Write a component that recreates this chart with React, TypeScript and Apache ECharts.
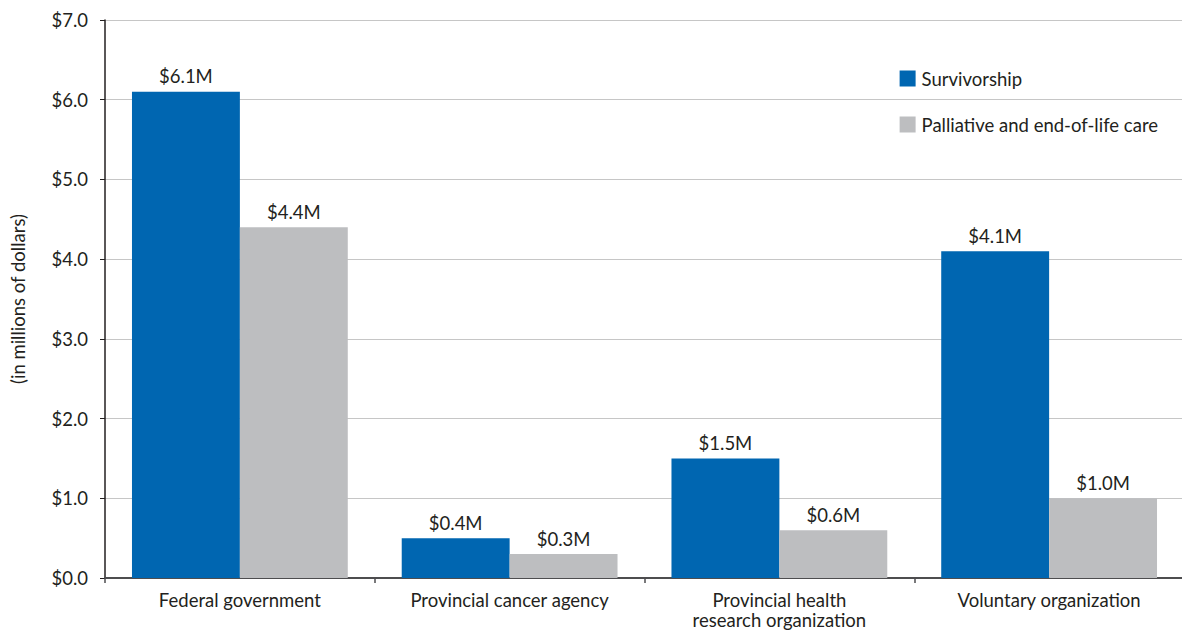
import React, { useEffect, useRef } from "react";
import * as echarts from "echarts";

const categories = [
  "Federal government",
  "Provincial cancer agency",
  "Provincial health\nresearch organization",
  "Voluntary organization",
];
const survivorship = [6.1, 0.5, 1.5, 4.1];
const survivorshipLabels = ["$6.1M", "$0.4M", "$1.5M", "$4.1M"];
const palliative = [4.4, 0.3, 0.6, 1.0];
const palliativeLabels = ["$4.4M", "$0.3M", "$0.6M", "$1.0M"];
const seriesNames = ["Survivorship", "Palliative and end-of-life care"];

const FONT = "Lato";
const FS = 18.5;
const TEXT = "#231f20";

export default function App() {
  const ref = useRef<HTMLDivElement>(null);
  useEffect(() => {
    document.body.style.margin = "0";
    const chart = echarts.init(ref.current!, null, { renderer: "svg" });
    chart.setOption({
      animation: false,
      textStyle: { fontFamily: FONT, color: TEXT },
      grid: { left: 105, right: -2, top: 20, bottom: 54, containLabel: false, outerBoundsMode: "none" },
      legend: {
        orient: "vertical",
        right: 24,
        top: 69,
        padding: 0,
        itemWidth: 16,
        itemHeight: 16,
        itemGap: 27,
        icon: "rect",
        textStyle: { fontFamily: FONT, fontSize: FS, color: TEXT, padding: [0, 0, 0, 1] },
        data: seriesNames,
      },
      xAxis: {
        type: "category",
        data: categories,
        axisLine: { lineStyle: { color: "#4d4d4f", width: 2 } },
        axisTick: { show: true, length: 5, lineStyle: { color: "#4d4d4f", width: 1.5 } },
        axisLabel: {
          fontFamily: FONT,
          fontSize: FS,
          color: TEXT,
          margin: 12,
          lineHeight: 20,
        },
      },
      yAxis: {
        type: "value",
        min: 0,
        max: 7,
        interval: 1,
        name: "(in millions of dollars)",
        nameLocation: "middle",
        nameGap: 78,
        nameRotate: 90,
        nameTextStyle: { fontFamily: FONT, fontSize: FS, color: TEXT },
        axisLine: { show: true, lineStyle: { color: "#231f20", width: 1.5 } },
        axisTick: { show: true, length: 5, lineStyle: { color: "#231f20" } },
        splitLine: { lineStyle: { color: "#c6c6c6", width: 1.2 } },
        axisLabel: {
          fontFamily: FONT,
          fontSize: FS,
          color: TEXT,
          margin: 17,
          formatter: (v: number) => "$" + v.toFixed(1),
        },
      },
      series: [
        {
          name: seriesNames[0],
          type: "bar",
          data: survivorship,
          barGap: "0%",
          barCategoryGap: "20%",
          itemStyle: { color: "#0066b1" },
          label: {
            show: true,
            position: "top",
            distance: 6,
            fontFamily: FONT,
            fontSize: FS,
            color: TEXT,
            formatter: (p: any) => survivorshipLabels[p.dataIndex],
          },
        },
        {
          name: seriesNames[1],
          type: "bar",
          data: palliative,
          barGap: "0%",
          barCategoryGap: "20%",
          itemStyle: { color: "#bdbec0" },
          label: {
            show: true,
            position: "top",
            distance: 6,
            fontFamily: FONT,
            fontSize: FS,
            color: TEXT,
            formatter: (p: any) => palliativeLabels[p.dataIndex],
          },
        },
      ],
    });
    return () => chart.dispose();
  }, []);
  return <div ref={ref} style={{ width: 1182, height: 632 }} />;
}
